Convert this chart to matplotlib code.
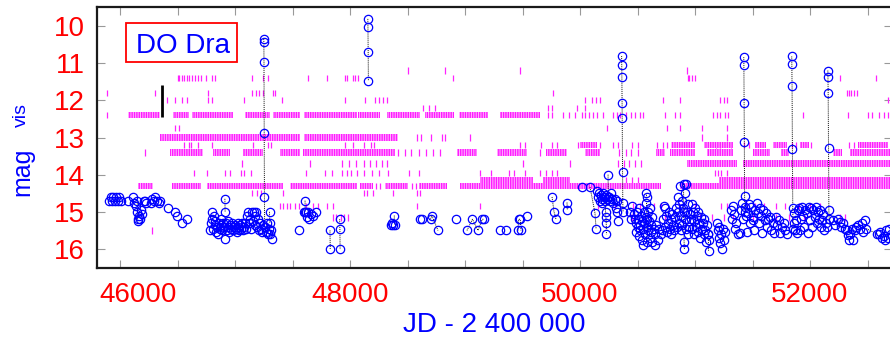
import numpy as np
import matplotlib
matplotlib.use('Agg')
import matplotlib.pyplot as plt
import matplotlib.transforms as mtrans
from matplotlib.patches import Rectangle

plt.rcParams['font.family'] = ['Liberation Sans', 'DejaVu Sans']
plt.rcParams['hatch.linewidth'] = 1.0

# ---- visual estimates: quiescent detections (JD-2400000, mag) per season ----
season_a = [(45905, 14.7), (45918, 14.6), (45930, 14.7), (45942, 14.6), (45955, 14.7), (45968, 14.6),
            (45980, 14.7), (45993, 14.6), (46005, 14.7), (46070, 14.7), (46112, 14.6), (46125, 14.75),
            (46140, 14.85), (46158, 15.2), (46166, 15.1), (46175, 15.2), (46185, 14.95), (46195, 15.05),
            (46205, 14.7), (46215, 14.7), (46228, 14.75), (46270, 14.75), (46282, 14.65), (46295, 14.7),
            (46308, 14.6), (46320, 14.7), (46335, 14.75), (46345, 14.7), (46420, 14.9), (46478, 15.0),
            (46498, 15.1), (46540, 15.3), (46585, 15.2)]
season_b = [(46785, 15.5), (46790, 15.3), (46796, 15.0), (46800, 15.2), (46808, 15.45), (46815, 15.1),
            (46822, 15.35), (46830, 15.25), (46838, 15.55), (46845, 15.4), (46852, 15.6), (46860, 15.3),
            (46868, 15.45), (46875, 15.2), (46882, 15.35), (46890, 15.5), (46898, 15.3), (46905, 15.4),
            (46913, 15.72), (46920, 15.3), (46928, 15.5), (46935, 15.25), (46943, 15.4), (46950, 15.55),
            (46958, 15.35), (46966, 15.45), (46974, 15.3), (46982, 15.5), (46990, 15.4), (46998, 15.35),
            (47006, 15.45), (47014, 15.55), (47022, 15.3), (47030, 15.4), (47038, 15.5), (47046, 15.35),
            (47055, 15.45), (47063, 15.3), (47072, 15.5), (47080, 15.4), (47090, 15.3), (47098, 15.45),
            (47106, 15.1), (47114, 15.0), (47122, 15.3), (47130, 15.2), (47138, 15.45), (47146, 15.0),
            (47154, 15.25), (47162, 15.0), (47170, 15.35), (47178, 15.1), (47186, 15.0), (47194, 15.4),
            (47202, 15.2), (47210, 15.5), (47218, 15.3), (47226, 15.45), (47234, 15.55), (47242, 15.35),
            (47262, 15.4), (47270, 15.55), (47278, 15.3), (47286, 15.6), (47294, 15.45), (47302, 15.6),
            (47310, 15.5), (47320, 15.72), (47560, 15.5)]
season_c = [(47600, 15.0), (47615, 15.0), (47625, 15.15), (47635, 15.0), (47645, 15.2), (47660, 15.05),
            (47680, 15.1), (47700, 15.0)]
season_d = [(48360, 15.35), (48368, 15.3), (48376, 15.35), (48610, 15.2), (48628, 15.2), (48922, 15.2),
            (49304, 15.5), (49357, 15.5), (49539, 15.1)]
season_e = [(50020, 14.33), (50150, 14.45), (50158, 14.6), (50165, 14.5), (50172, 14.7), (50180, 14.55),
            (50188, 14.65), (50195, 14.75), (50202, 14.5), (50210, 14.6), (50218, 14.7), (50226, 14.55),
            (50234, 14.65), (50252, 14.6), (50260, 14.7), (50268, 14.5), (50276, 14.65), (50284, 14.75),
            (50305, 14.65), (50312, 14.9), (50318, 14.7), (50325, 15.0), (50333, 15.25)]
season_f = [(50435, 15.0), (50440, 15.2), (50455, 14.85), (50470, 15.05), (50478, 15.2),
            (50485, 15.3), (50490, 15.55), (50495, 15.0), (50500, 15.4), (50505, 15.2), (50510, 15.65),
            (50515, 14.9), (50520, 15.35), (50525, 15.5), (50530, 15.1), (50535, 15.75), (50540, 15.25),
            (50545, 15.45), (50550, 15.9), (50555, 15.0), (50560, 15.3), (50565, 15.6), (50570, 14.75),
            (50575, 15.15), (50580, 15.4), (50585, 14.6), (50590, 15.0), (50595, 15.5), (50600, 15.25),
            (50605, 15.7), (50610, 14.9), (50615, 15.35), (50620, 15.55), (50625, 15.15), (50630, 15.8),
            (50640, 15.45), (50648, 15.9), (50655, 15.6), (50665, 15.35), (50675, 15.75), (50690, 15.45),
            (50700, 15.6), (50710, 15.5), (50720, 15.2), (50728, 14.85), (50735, 15.4), (50742, 14.9),
            (50750, 15.1), (50758, 15.55), (50765, 15.3), (50772, 15.0), (50780, 15.45), (50788, 15.2),
            (50795, 15.6), (50802, 15.05), (50810, 15.35), (50818, 15.5), (50825, 15.15), (50832, 14.9),
            (50840, 15.4), (50850, 15.0), (50855, 14.6), (50860, 15.3), (50865, 14.8), (50870, 14.3),
            (50875, 15.5), (50880, 15.1), (50885, 14.7), (50890, 15.35), (50895, 14.9), (50912, 15.2),
            (50916, 14.5), (50920, 15.45), (50925, 14.25), (50930, 15.0), (50935, 15.6), (50940, 14.8),
            (50945, 15.25), (50950, 15.4), (50955, 15.05), (50965, 15.2), (50970, 14.8), (50975, 15.45),
            (50982, 15.0), (50988, 15.6), (50995, 15.25), (51002, 14.9), (51008, 15.4), (51015, 15.1),
            (51022, 15.55), (51030, 15.0), (51038, 15.3), (51045, 15.7), (51052, 15.15), (51060, 15.45),
            (51068, 15.3), (51075, 15.6), (51082, 15.2), (51090, 15.5), (51098, 15.8), (51105, 15.35),
            (51112, 15.6), (51125, 15.75), (51195, 15.3), (51200, 15.5), (51205, 15.7), (51210, 15.4),
            (51215, 15.85), (51225, 15.6), (51232, 16.0), (51240, 15.45), (51250, 15.75), (51260, 15.55),
            (51310, 14.95), (51320, 15.2), (51330, 14.85), (51340, 15.05), (51345, 15.45), (51360, 15.3),
            (51372, 15.6)]
season_g = [(51391, 15.58), (51400, 14.95), (51406, 14.77), (51415, 15.2), (51435, 14.86), (51445, 15.1),
            (51449, 15.55), (51460, 15.04), (51470, 14.8), (51480, 15.3), (51490, 14.86), (51500, 15.13),
            (51507, 15.22), (51515, 15.5), (51525, 14.95), (51535, 14.77), (51545, 15.04), (51555, 15.31),
            (51565, 14.9), (51575, 15.1), (51585, 15.58), (51595, 14.95), (51605, 15.22), (51615, 15.04),
            (51625, 15.4), (51635, 15.2), (51650, 15.13), (51660, 15.5), (51675, 15.3), (51690, 15.58),
            (51700, 15.13), (51715, 15.35), (51730, 15.22), (51740, 15.58), (51755, 15.4), (51770, 15.3),
            (51785, 15.49), (51797, 15.6)]
season_h = [(51858, 15.31), (51865, 15.04), (51872, 15.5), (51880, 15.22), (51888, 15.58), (51895, 14.95),
            (51905, 14.9), (51913, 15.49), (51920, 15.2), (51930, 14.86), (51940, 15.1), (51950, 15.4),
            (51960, 14.95), (51971, 15.04), (51980, 15.58), (51990, 14.86), (52000, 15.22), (52010, 14.9),
            (52020, 15.4), (52029, 14.95), (52040, 15.13), (52050, 14.86), (52060, 15.3), (52070, 15.0),
            (52080, 15.2), (52087, 14.95), (52095, 15.4), (52105, 15.22), (52115, 15.05), (52125, 15.5),
            (52135, 15.3), (52145, 15.4)]
season_i = [(52203, 15.22), (52220, 15.35), (52240, 15.18), (52261, 15.27), (52270, 15.4), (52290, 15.31),
            (52305, 15.45), (52319, 15.49), (52330, 15.62), (52340, 15.75), (52350, 15.6), (52365, 15.45),
            (52377, 15.75), (52390, 15.5), (52400, 15.4), (52420, 15.36), (52435, 15.45), (52450, 15.3),
            (52465, 15.55), (52480, 15.22), (52600, 15.6), (52612, 15.55), (52625, 15.7), (52640, 15.65),
            (52655, 15.75), (52665, 15.5), (52680, 15.7), (52690, 15.45), (52700, 15.6)]

# ---- sequences joined by dotted lines (outbursts and short runs) ----
outburst_1 = [(47250, 10.35), (47251, 10.43), (47252, 10.97), (47254, 12.88), (47256, 14.6), (47258, 15.4)]
outburst_2 = [(48155, 9.81), (48156, 10.02), (48158, 10.71), (48160, 11.48)]
outburst_3 = [(50362, 10.81), (50363, 11.05), (50364, 11.38), (50366, 12.08), (50367, 12.48),
              (50370, 13.92), (50372, 14.77), (50375, 15.0)]
outburst_4 = [(51424, 10.84), (51425, 11.05), (51427, 12.06), (51429, 13.11), (51431, 14.56), (51434, 15.0)]
outburst_5 = [(51841, 10.82), (51842, 11.02), (51844, 11.61), (51847, 13.31), (51850, 14.9), (51853, 15.45)]
outburst_6 = [(52155, 11.2), (52156, 11.38), (52158, 11.81), (52161, 13.28), (52164, 14.96), (52167, 15.2)]
short_runs = [
    [(46150, 14.7), (46152, 15.0), (46154, 15.25)],
    [(46912, 14.65), (46914, 15.0)],
    [(47300, 15.0), (47302, 15.3)],
    [(47609, 14.7), (47611, 15.0)],
    [(47826, 15.5), (47828, 16.0)],
    [(47910, 15.2), (47912, 15.45), (47914, 16.0)],
    [(48385, 15.1), (48387, 15.35)],
    [(48700, 15.2), (48712, 15.1), (48765, 15.5)],
    [(49017, 15.5), (49065, 15.2), (49113, 15.5), (49150, 15.2), (49163, 15.2)],
    [(49461, 15.5), (49466, 15.2), (49480, 15.2), (49487, 15.5)],
    [(49757, 14.6), (49774, 15.0), (49791, 15.2)],
    [(49887, 14.75), (49890, 14.95)],
    [(50087, 14.33), (50130, 15.03), (50140, 15.46)],
    [(50220, 14.6), (50222, 15.0), (50225, 15.13), (50228, 15.3), (50230, 15.6)],
    [(50244, 14.0), (50246, 14.6)],
    [(50578, 14.5), (50580, 15.2), (50583, 15.8)],
    [(50900, 14.25), (50902, 15.0), (50905, 15.8), (50908, 16.0)],
    [(51115, 15.6), (51118, 16.05)],
    [(52490, 15.45), (52585, 15.6)],
]

# ---- "fainter than" estimates: single dates and dense stretches per limit ----
lim_levels = [11.2, 11.4, 11.8, 12.0, 12.2, 12.4, 12.75, 13.0, 13.2, 13.4, 13.7, 13.95, 14.15, 14.3,
              14.5, 14.85, 15.15, 15.5]
lim_11_2 = [48505, 48826, 49478, 50930]
lim_11_4 = [46500, 46515, 46535, 46560, 46580, 46600, 46625, 46650, 46680, 46700, 46745, 46800, 46830,
            47148, 47245, 47290, 47635, 47800, 47957, 47975, 48027, 48040, 48070, 48896, 50935, 50950,
            50970, 51000, 52265, 52575]
lim_11_8 = [45885, 46305, 46765, 47150, 47180, 47210, 47245, 47330, 47350, 49765, 52320, 52340, 52360,
            52385, 52410]
lim_12_0 = [46410, 46480, 46540, 46585, 46765, 46800, 47080, 47405, 47957, 48130, 48220, 48250, 48290,
            48320, 50045, 50105, 50140, 50175, 50725, 50870, 51220, 51250, 51280, 52680]
lim_12_2 = [48635, 48690, 48740, 49720, 49757, 49975, 50045]
lim_12_4 = [45885, 49720, 49760, 49850, 49900, 49960, 50020, 50040, 50080, 50110, 50150, 50200, 50290,
            50320, 50350, 50400, 50440, 50480, 50520, 50550, 50740, 50830, 50870, 51160, 51190, 51220,
            51260, 51290, 51940, 52330, 52505, 52540, 52600, 52640, 52680]
lim_12_75 = [46480, 46510, 50235, 50755, 50870, 51060, 51280]
lim_13_0 = [48580, 48620, 48700, 48800, 48825, 49045, 51060, 51280]
lim_13_2 = [46560, 46600, 46620, 46680, 46800, 47155, 47290, 47310, 47960, 48030, 48120, 48180, 48210,
            49480, 49520, 49660, 49760, 49800, 49980, 50170, 50290, 50330, 50450, 50500, 50670, 50720,
            50760, 51180, 51220, 51310, 51430, 51470, 51840, 51880, 52010, 52340, 52380]
lim_13_4 = [46217, 48420, 48480, 48530, 48600, 48660, 48720, 48780, 49655, 50340, 50400, 50440, 50500]
lim_13_7 = [47060, 47650, 47930, 47990, 48050, 48120, 48170, 48230, 48280, 48320, 49500, 49915, 50330,
            50380, 50430, 50480, 50530]
lim_13_95 = [46640, 46760, 46910, 46960, 47050, 47080, 47140, 47620, 47780, 47840, 47930, 47970, 48010,
             48060, 48120, 48190, 48250, 48330, 48510, 48600, 49130, 49230, 49380, 49430, 49520, 49650,
             49700, 49760, 49800, 51175, 51200, 51230, 51280]
lim_14_15 = [50400, 50450, 50500]
lim_14_3 = [48230, 48260, 48540, 48570]
lim_14_5 = [47150, 47190, 47230, 47420, 48120, 48150, 48200, 48370, 48580, 48610]
lim_14_85 = [47390, 47420, 47450, 47480, 47520, 47560, 47620, 47680, 47720, 47800, 47850, 48580, 49130,
             50160, 50300, 50460, 50520, 50640, 50700, 50860, 51000, 51230, 51280, 51450, 51520, 51600,
             51700, 51780, 51900, 52000, 52090]
lim_15_15 = [47850, 47880, 47920, 47950, 47980, 50450, 50480, 50740, 51040, 51150, 51250, 51330, 51500,
             51700, 51820, 51950, 52080, 52260, 52300]
lim_15_5 = [46275]

band_12_4 = [(46070, 46350), (46460, 46600), (46630, 46985), (47090, 47300), (47330, 47565),
             (47600, 48060), (48070, 48260), (48320, 48610), (48650, 48900), (48950, 49200), (49305, 49650)]
band_13_0 = [(46350, 47565), (47600, 48420)]
band_13_2 = [(50000, 50150), (50790, 51000), (51080, 51330), (51520, 51620), (51680, 51800),
             (51910, 51990), (52420, 52680)]
band_13_4 = [(46435, 46720), (46810, 46957), (47070, 47245), (47390, 47565), (47590, 48390),
             (48930, 49105), (49280, 49540), (49700, 49890), (50045, 50175), (50660, 50740),
             (50780, 51000), (51100, 51330), (51500, 51650), (51750, 51820), (52200, 52280), (52350, 52700)]
band_13_7 = [(50930, 51365), (51420, 52700)]
band_14_15 = [(49130, 49590), (49680, 49915), (51210, 52700)]
band_14_3 = [(46160, 46290), (46450, 46700), (46755, 47420), (47480, 48060), (48090, 48200),
             (48300, 48500), (48600, 48840), (48960, 50700), (50870, 52700)]

lim_ticks = [lim_11_2, lim_11_4, lim_11_8, lim_12_0, lim_12_2, lim_12_4, lim_12_75, lim_13_0, lim_13_2,
             lim_13_4, lim_13_7, lim_13_95, lim_14_15, lim_14_3, lim_14_5, lim_14_85, lim_15_15, lim_15_5]
lim_bands = {12.4: band_12_4, 13.0: band_13_0, 13.2: band_13_2, 13.4: band_13_4, 13.7: band_13_7,
             14.15: band_14_15, 14.3: band_14_3}

# scale bar near the left edge
bar_jd = 46365
bar_mag = (11.58, 12.45)

# ---- figure ----
W, H = 890, 344
fig = plt.figure(figsize=(W / 100, H / 100), dpi=100)
ax = fig.add_axes([97 / W, 1 - 268 / H, (892 - 97) / W, 261 / H])
ax.set_xlim(45800, 52713)
ax.set_ylim(16.51, 9.49)

mark_h = 0.17
for level, days in zip(lim_levels, lim_ticks):
    ax.vlines(days, level - mark_h / 2, level + mark_h / 2, color='#ff22ff', lw=0.9, zorder=2)
# dense stretches: pale fill with vertical hatching for the individual marks
for level, spans in lim_bands.items():
    ax.broken_barh([(a, b - a) for a, b in spans], (level - mark_h / 2, mark_h),
                   facecolor='#ffb8ff', edgecolor='#ff1aff', hatch='|||||||', lw=0, zorder=2)

circ = dict(ls='none', marker='o', mfc='none', mec='#0000ff', ms=6, mew=0.9, zorder=4)
for season in [season_a, season_b, season_c, season_d, season_e, season_f, season_g, season_h, season_i]:
    jd, mag = np.array(season).T
    ax.plot(jd, mag, **circ)

for run in [outburst_1, outburst_2, outburst_3, outburst_4, outburst_5, outburst_6] + short_runs:
    jd, mag = np.array(run).T
    ax.plot(jd, mag, ls=(0, (1, 1)), color='#111111', lw=0.7, zorder=3)
    ax.plot(jd, mag, **circ)

ax.plot([bar_jd, bar_jd], bar_mag, color='black', lw=2, solid_capstyle='butt', zorder=5)

# axes styling
for sp in ax.spines.values():
    sp.set_linewidth(1.6)
    sp.set_color('#1a1a1a')
ax.set_xticks(np.arange(46000, 52600, 500))
ax.set_xticklabels([])
ax.set_yticks(np.arange(10, 17))
ax.set_yticklabels([str(v) for v in range(10, 17)])
ax.tick_params(axis='both', direction='in', length=5.8, width=0.8, color='#999999',
               top=True, right=True)
ax.tick_params(axis='y', labelsize=20, labelcolor='#ff0000', pad=8.6)

# x tick labels every 2000 days
xlabels = [46000, 48000, 50000, 52000]
shift = [18, 0, 0, 0]
for v, dx in zip(xlabels, shift):
    off = mtrans.ScaledTranslation(dx / 100, -14 / 100, fig.dpi_scale_trans)
    ax.text(v, 0, str(v), transform=ax.get_xaxis_transform() + off, ha='center', va='top',
            fontsize=20, color='#ff0000')

fig.text(494 / W, 1 - 325 / H, 'JD - 2 400 000', ha='center', va='center', fontsize=20, color='#0000ff')
fig.text(22 / W, 1 - 172 / H, 'mag', rotation=90, ha='center', va='center', fontsize=18, color='#0000ff')
fig.text(21 / W, 1 - 115 / H, 'vis', rotation=90, ha='center', va='center', fontsize=14, color='#0000ff')

# star name in a red frame
fig.patches.append(Rectangle((126 / W, 1 - 62 / H), 111 / W, 39 / H, transform=fig.transFigure,
                             facecolor='white', edgecolor='#ff0000', lw=1.3, zorder=6))
fig.text(182.5 / W, 1 - 53 / H, 'DO Dra', ha='center', va='baseline', fontsize=20, color='#0000ff',
         zorder=7)

fig.savefig('out.png', dpi=100)
